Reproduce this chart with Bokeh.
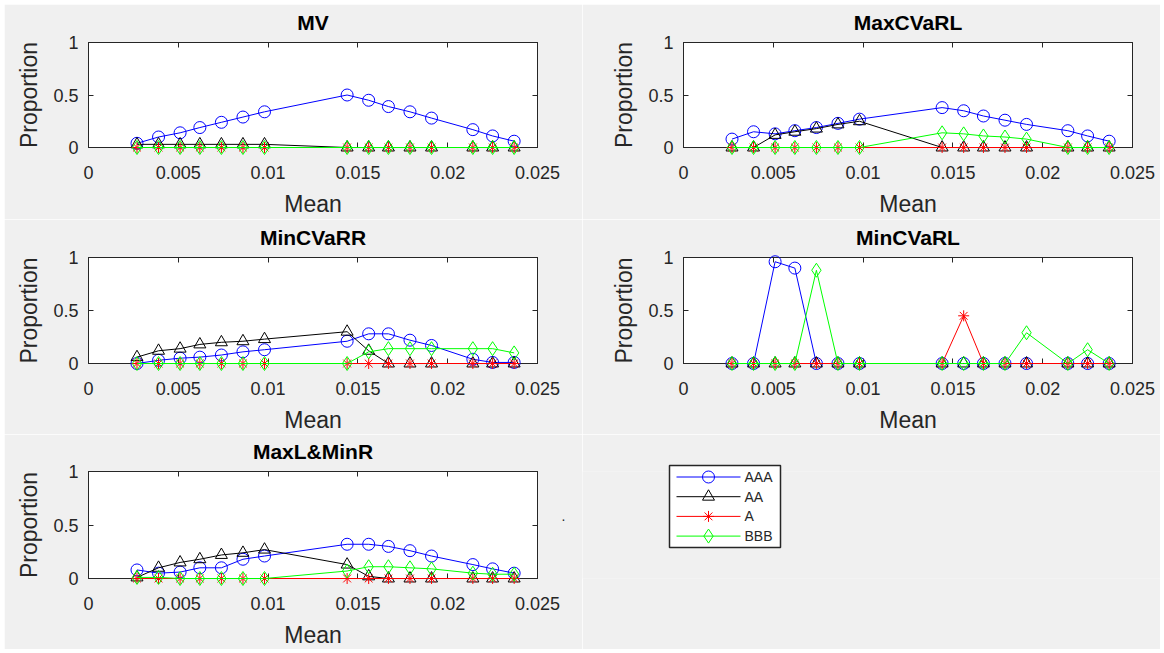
import math

from bokeh.plotting import figure
from bokeh.models import Range1d, FixedTicker, LinearAxis
from bokeh.core.properties import value
from bokeh.layouts import column, row
from bokeh.embed import file_html
from bokeh.resources import INLINE

# Mean return of each efficient portfolio (shared x values)
mean_x = [0.0027, 0.0039, 0.0051, 0.0062, 0.0074, 0.0086, 0.0098,
          0.0144, 0.0156, 0.0167, 0.0179, 0.0191, 0.0214, 0.0225, 0.0237]

# Proportion held in each rating class, per optimisation model
mv_aaa = [0.04, 0.10, 0.14, 0.19, 0.24, 0.29, 0.34, 0.50, 0.45, 0.39, 0.34, 0.28, 0.17, 0.11, 0.06]
mv_aa = [0.03, 0.03, 0.03, 0.03, 0.03, 0.03, 0.03, 0, 0, 0, 0, 0, 0, 0, 0]
mv_a = [0, 0, 0, 0, 0, 0, 0, 0, 0, 0, 0, 0, 0, 0, 0]
mv_bbb = [0, 0, 0, 0, 0, 0, 0, 0, 0, 0, 0, 0, 0, 0, 0]

maxcvarl_aaa = [0.08, 0.15, 0.13, 0.16, 0.19, 0.23, 0.27, 0.38, 0.35, 0.30, 0.26, 0.22, 0.16, 0.11, 0.06]
maxcvarl_aa = [0, 0, 0.12, 0.15, 0.18, 0.22, 0.25, 0, 0, 0, 0, 0, 0, 0, 0]
maxcvarl_a = [0, 0, 0, 0, 0, 0, 0, 0, 0, 0, 0, 0, 0, 0, 0]
maxcvarl_bbb = [0, 0, 0, 0, 0, 0, 0, 0.14, 0.13, 0.11, 0.10, 0.08, 0, 0, 0]

mincvarr_aaa = [0, 0.03, 0.05, 0.06, 0.08, 0.11, 0.13, 0.21, 0.28, 0.28, 0.22, 0.17, 0.04, 0.01, 0.01]
mincvarr_aa = [0.06, 0.12, 0.14, 0.18, 0.20, 0.21, 0.23, 0.30, 0.12, 0, 0, 0, 0, 0, 0]
mincvarr_a = [0, 0, 0, 0, 0, 0, 0, 0, 0, 0, 0, 0, 0, 0, 0]
mincvarr_bbb = [0, 0, 0, 0, 0, 0, 0, 0, 0.11, 0.14, 0.14, 0.14, 0.14, 0.14, 0.10]

mincvarl_aaa = [0, 0, 0.96, 0.90, 0, 0, 0, 0, 0, 0, 0, 0, 0, 0, 0]
mincvarl_aa = [0, 0, 0, 0, 0, 0, 0, 0, 0, 0, 0, 0, 0, 0, 0]
mincvarl_a = [0, 0, 0, 0, 0, 0, 0, 0, 0.45, 0, 0, 0, 0, 0, 0]
mincvarl_bbb = [0, 0, 0, 0, 0.88, 0, 0, 0, 0, 0, 0, 0.29, 0, 0.13, 0]

maxlminr_aaa = [0.08, 0.05, 0.06, 0.10, 0.10, 0.18, 0.21, 0.32, 0.32, 0.30, 0.26, 0.21, 0.13, 0.09, 0.05]
maxlminr_aa = [0.01, 0.10, 0.15, 0.18, 0.22, 0.24, 0.27, 0.13, 0.02, 0, 0, 0, 0, 0, 0]
maxlminr_a = [0, 0, 0, 0, 0, 0, 0, 0, 0, 0, 0, 0, 0, 0, 0]
maxlminr_bbb = [0.01, 0.01, 0, 0, 0, 0, 0, 0.07, 0.11, 0.11, 0.10, 0.09, 0.05, 0.04, 0.04]

model_titles = ["MV", "MaxCVaRL", "MinCVaRR", "MinCVaRL", "MaxL&MinR"]
model_series = [
    [mv_aaa, mv_aa, mv_a, mv_bbb],
    [maxcvarl_aaa, maxcvarl_aa, maxcvarl_a, maxcvarl_bbb],
    [mincvarr_aaa, mincvarr_aa, mincvarr_a, mincvarr_bbb],
    [mincvarl_aaa, mincvarl_aa, mincvarl_a, mincvarl_bbb],
    [maxlminr_aaa, maxlminr_aa, maxlminr_a, maxlminr_bbb],
]

ratings = ["AAA", "AA", "A", "BBB"]
x_ticks = [0, 0.005, 0.01, 0.015, 0.02, 0.025]
x_tick_labels = ["0", "0.005", "0.01", "0.015", "0.02", "0.025"]
y_ticks = [0, 0.5, 1]
y_tick_labels = ["0", "0.5", "1"]
x_label = "Mean"
y_label = "Proportion"

# styling
FONT = "Liberation Sans"
BG = "#f0f0f0"
INK = "#262626"
COLORS = ["#0000ff", "#000000", "#ff0000", "#00ff00"]
MARKERS = ["circle", "triangle", "asterisk", "diamond"]
SIZES = [12, 12, 11, 14]

X_MAX = 0.025
FRAME_W = 449
COL_BORDERS = [(84, 45), (101, 28)]                           # left, right
ROW_BORDERS = [(38, 105, 72), (38, 106, 71), (37, 107, 71)]   # top, frame, bottom


def style_axis(ax, show_labels=True):
    ax.axis_line_color = INK
    ax.major_tick_line_color = INK
    ax.major_tick_in = 5
    ax.major_tick_out = 0
    ax.minor_tick_line_color = None
    ax.major_label_text_font = FONT
    if show_labels:
        ax.major_label_text_color = INK
        ax.major_label_text_font_size = "18px"
    else:
        # mirrored tick marks only: labels are not painted
        ax.major_label_text_color = None
        ax.major_label_text_font_size = "8px"
        ax.major_label_standoff = 0


def put_text(p, x, y, text, size, color=INK, style="normal", angle=0.0, align="center"):
    """Text glyph drawn on the overlay level so it may sit outside the frame."""
    p.text(x=[x], y=[y], text=[text], angle=angle, text_align=align,
           text_baseline="middle", text_font=value(FONT), text_font_size=value(size),
           text_font_style=value(style), text_color=color, level="overlay")


def make_panel(idx, col, rw):
    bl, br = COL_BORDERS[col]
    bt, fh, bb = ROW_BORDERS[rw]
    p = figure(width=bl + FRAME_W + br, height=bt + fh + bb,
               x_range=Range1d(0, X_MAX), y_range=Range1d(0, 1),
               output_backend="svg", toolbar_location=None,
               min_border_left=bl, min_border_right=br,
               min_border_top=bt, min_border_bottom=bb,
               background_fill_color="white", border_fill_color=BG,
               outline_line_color=INK, outline_line_width=1)
    p.grid.visible = False

    p.xaxis.ticker = FixedTicker(ticks=x_ticks)
    p.xaxis.major_label_overrides = dict(zip(x_ticks, x_tick_labels))
    p.yaxis.ticker = FixedTicker(ticks=y_ticks)
    p.yaxis.major_label_overrides = dict(zip(y_ticks, y_tick_labels))
    style_axis(p.xaxis[0])
    style_axis(p.yaxis[0])
    p.xaxis.major_label_standoff = 18
    p.yaxis.major_label_standoff = 10

    top_ax = LinearAxis(ticker=FixedTicker(ticks=x_ticks))
    right_ax = LinearAxis(ticker=FixedTicker(ticks=y_ticks))
    style_axis(top_ax, show_labels=False)
    style_axis(right_ax, show_labels=False)
    p.add_layout(top_ax, "above")
    p.add_layout(right_ax, "right")

    for ys, color, marker, size in zip(model_series[idx], COLORS, MARKERS, SIZES):
        p.line(mean_x, ys, line_color=color, line_width=1, level="overlay")
        p.scatter(mean_x, ys, marker=marker, size=size, line_color=color,
                  fill_color=None, line_width=1, level="overlay")

    # title and axis titles, offsets given in pixels from the frame
    px = X_MAX / FRAME_W
    py = 1.0 / fh
    put_text(p, X_MAX / 2, 1 + 20 * py, model_titles[idx], "21px", color="black", style="bold")
    put_text(p, X_MAX / 2, -56 * py, x_label, "23px")
    put_text(p, -60 * px, 0.5, y_label, "23px", angle=math.pi / 2)
    return p


panels = []
positions = [(0, 0), (1, 0), (0, 1), (1, 1), (0, 2)]
for i, (c, r) in enumerate(positions):
    panels.append(make_panel(i, c, r))

# small stray dot to the right of the last panel
put_text(panels[4], X_MAX * (1 + 26 / FRAME_W), 63 / ROW_BORDERS[2][1], ".", "14px")

# legend cell: shares the row's frame borders, coordinates are pixels from the cell bottom
LEG_W = 578
LEG_TOP, LEG_FRAME, LEG_BOTTOM = ROW_BORDERS[2]
LEG_H = LEG_TOP + LEG_FRAME + LEG_BOTTOM
leg = figure(width=LEG_W, height=LEG_H,
             x_range=Range1d(0, LEG_W), y_range=Range1d(LEG_BOTTOM, LEG_BOTTOM + LEG_FRAME),
             output_backend="svg", toolbar_location=None,
             min_border_left=0, min_border_right=0,
             min_border_top=LEG_TOP, min_border_bottom=LEG_BOTTOM,
             x_axis_type=None, y_axis_type=None, outline_line_color=None,
             background_fill_color=BG, border_fill_color=BG)
leg.grid.visible = False

box_left, box_right, box_top, box_bottom = 87, 198, LEG_H - 31, LEG_H - 113
row_step = 19.7
first_row = box_top - 11.5
line_x0, line_x1 = box_left + 7, box_left + 71
leg.quad(left=[box_left], right=[box_right], top=[box_top], bottom=[box_bottom],
         fill_color="white", line_color=INK, line_width=1.5, level="overlay")
for k, (name, color, marker, size) in enumerate(zip(ratings, COLORS, MARKERS, SIZES)):
    yc = first_row - k * row_step
    leg.segment(x0=[line_x0], x1=[line_x1], y0=[yc], y1=[yc], line_color=color,
                line_width=1, level="overlay")
    leg.scatter(x=[(line_x0 + line_x1) / 2], y=[yc], marker=marker, size=size,
                line_color=color, fill_color=None, line_width=1, level="overlay")
    put_text(leg, line_x1 + 4, yc, name, "14px", align="left")

layout = column(row(panels[0], panels[1]), row(panels[2], panels[3]), row(panels[4], leg),
                margin=(4, 4, 4, 4))

open("out.html", "w").write(file_html(layout, INLINE))
